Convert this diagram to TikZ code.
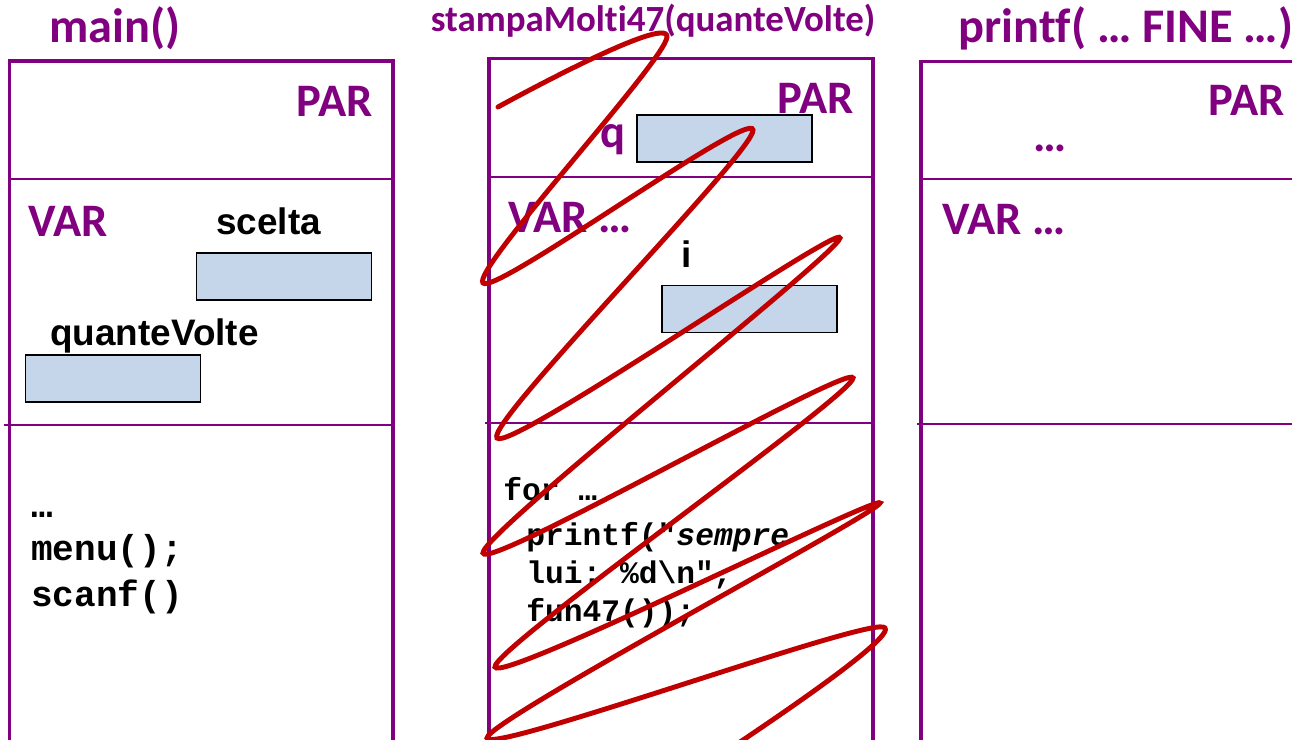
\documentclass[tikz,border=0pt]{standalone}
\usepackage{fontspec}
\setmonofont{Liberation Mono}
\newfontfamily\slidefont[Ligatures=NoCommon]{Carlito}
\newfontfamily\namefont{Liberation Sans}
\usetikzlibrary{positioning}
\definecolor{frpurple}{HTML}{800080}
\definecolor{frred}{HTML}{C00000}
\definecolor{frcell}{HTML}{C5D5EA}

\begin{document}
\begin{tikzpicture}[x=0.02cm,y=-0.02cm,
 frame/.style={draw=frpurple,line width=2.2pt},
 divider/.style={draw=frpurple,line width=1.2pt},
 title/.style={text=frpurple,font=\slidefont\bfseries\fontsize{27.5}{30}\selectfont,inner sep=0pt,anchor=base},
 kw/.style={text=frpurple,font=\slidefont\bfseries\fontsize{26.5}{30}\selectfont,inner sep=0pt,anchor=base west},
 varname/.style={font=\namefont\bfseries\fontsize{21}{24}\selectfont,inner sep=0pt,anchor=base west},
 cell/.style={draw=black,line width=1.1pt,fill=frcell,minimum width=3.5cm,minimum height=0.94cm,inner sep=0pt},
 code/.style={font=\ttfamily\bfseries\fontsize{20.5}{24}\selectfont,inner sep=0pt,anchor=base west},
 smallcode/.style={code,font=\ttfamily\bfseries\fontsize{17.8}{22}\selectfont},
 scribble/.style={draw=frred,line width=2.8pt,line cap=round}
]
\useasboundingbox (0,0) rectangle (1292,740);

% main()
\node[title] (mt) at (115,43) {main()};
\draw[frame] (9.5,745) |- (393,61) -- (393,745);
\draw[divider] (9.5,179) -- (393,179);
\draw[divider] (4,425) -- (393,425);
\node[kw] (mp) at (296,117) {PAR};
\node[kw] (mv) at (28,236) {VAR};
\node[varname] (ms) at (216,235) {scelta};
\node[cell] (msc) at (284,276.5) {};
\node[varname] (mq) at (50,345) {quanteVolte};
\node[cell] (mqc) at (113,378.5) {};
\node[code] (mc1) at (31,517) {\ldots};
\node[code] (mc2) at (31,560) {menu();};
\node[code] (mc3) at (31,606) {scanf()};

% stampaMolti47()
\node[title,font=\slidefont\bfseries\fontsize{21}{24}\selectfont] (st) at (653,32) {stampaMolti47(quanteVolte)};
\draw[frame] (489,745) |- (873,58.5) -- (873,745);
\draw[divider] (489,177) -- (873,177);
\draw[divider] (485,423) -- (873,423);
\node[kw] (sp) at (777,113) {PAR};
\node[kw] (sq) at (600,148) {q};
\node[cell] (sqc) at (724.5,138.5) {};
\node[kw] (sv) at (508,233) {VAR \ldots};
\node[varname] (si) at (681,267) {i};
\node[cell] (sic) at (749.5,309) {};
\node[smallcode] (sc1) at (503,500) {for \ldots};
\node[smallcode] (sc2) at (526,545) {printf("\textit{sempre}};
\node[smallcode] (sc3) at (526,583) {lui: \%d\textbackslash n",};
\node[smallcode] (sc4) at (526,621) {fun47());};

% printf()
\node[title] (pt) at (1126,43) {printf( \ldots\ FINE \ldots)};
\draw[frame] (921,745) |- (1300,61.5);
\draw[divider] (921,179) -- (1300,179);
\draw[divider] (917,424) -- (1300,424);
\node[kw] (pp) at (1208,115) {PAR};
\node[kw] (pd) at (1033,152) {\ldots};
\node[kw] (pv) at (942,235) {VAR \ldots};

% crossed out call
\draw[scribble] plot[smooth,tension=0.5] coordinates {(498,107) (667,37) (483,283) (753,130) (497,438) (840,238) (483,553) (853,378) (495,667) (880,503) (487,738) (883,627) (690,775)};
\end{tikzpicture}
\end{document}
